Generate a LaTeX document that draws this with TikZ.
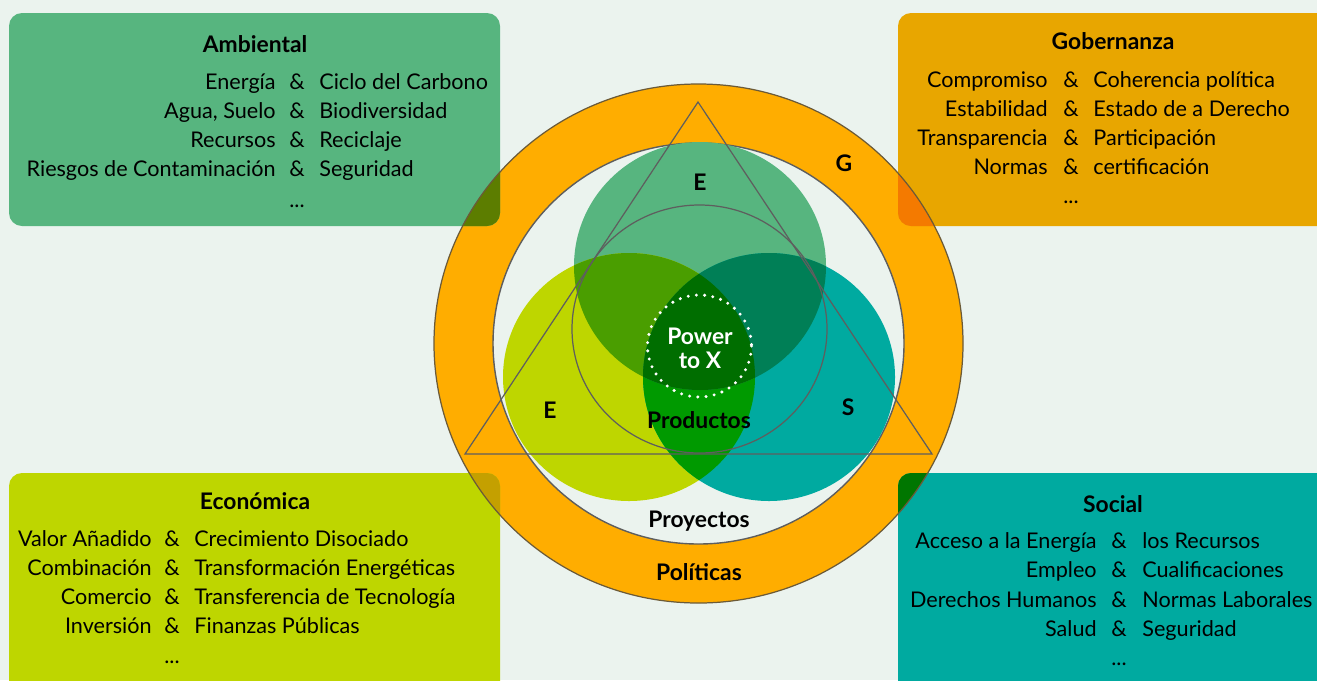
\documentclass[tikz,border=0pt]{standalone}
\usepackage{fontspec}
\setmainfont{Lato}
\usetikzlibrary{positioning,calc}

\definecolor{pagebg}{HTML}{EBF3EE}
\definecolor{ambgreen}{HTML}{57B57F}
\definecolor{govgold}{HTML}{E8A600}
\definecolor{ecolime}{HTML}{BED600}
\definecolor{socteal}{HTML}{00AAA0}
\definecolor{ringorange}{HTML}{FFAD00}
\definecolor{ringamb}{HTML}{5C7D00}
\definecolor{ringgov}{HTML}{F47A00}
\definecolor{ringeco}{HTML}{C4A000}
\definecolor{ringsoc}{HTML}{007600}
\definecolor{vennGY}{HTML}{4A9E00}
\definecolor{vennGT}{HTML}{007F56}
\definecolor{vennYT}{HTML}{009A00}
\definecolor{vennAll}{HTML}{006E00}
\definecolor{linegrey}{HTML}{5E5E5E}
\definecolor{ringline}{HTML}{6B5A38}

\begin{document}
\begin{tikzpicture}[x=0.02cm, y=-0.02cm,
	box/.style={rounded corners=0.26cm},
	vr/.style={x radius=126, y radius=124},
	outer/.style={x radius=264.5, y radius=259.5},
	inner/.style={x radius=205.5, y radius=200.5},
	thin/.style={line width=0.7pt, draw=linegrey},
	item/.style={inner sep=0pt, font=\fontsize{12.3}{14}\selectfont},
	head/.style={inner sep=0pt, anchor=base, font=\fontsize{13}{15}\selectfont\bfseries}]

    \useasboundingbox (0,0) rectangle (1317,680);
    \fill [pagebg] (0,0) rectangle (1317,680);

    % ring: Politicas
    \coordinate (C) at (698.5,343.5);
    \fill [ringorange, even odd rule] (C) ellipse [outer] (C) ellipse [inner];

    % the four boxes
    \fill [box, ambgreen] (9,13) rectangle (500,226);
    \fill [box, govgold] (898,13) rectangle (1340,226);
    \fill [box, ecolime] (9,473) rectangle (500,700);
    \fill [box, socteal] (898,473) rectangle (1340,700);
    \begin{scope}
      \clip (C) ellipse [outer];
      \fill [box, ringamb] (9,13) rectangle (500,226);
      \fill [box, ringgov] (898,13) rectangle (1340,226);
      \fill [box, ringeco] (9,473) rectangle (500,700);
      \fill [box, ringsoc] (898,473) rectangle (1340,700);
    \end{scope}
    \draw [ringline, line width=0.7pt] (C) ellipse [outer];
    \draw [linegrey, line width=0.8pt] (C) ellipse [inner];

    % venn of the three dimensions
    \coordinate (Vt) at (700,266);
    \coordinate (Vl) at (629,377);
    \coordinate (Vr) at (769,377);
    \fill [ambgreen] (Vt) ellipse [vr];
    \fill [ecolime] (Vl) ellipse [vr];
    \fill [socteal] (Vr) ellipse [vr];
    \begin{scope}
      \clip (Vl) ellipse [vr];
      \fill [vennYT] (Vr) ellipse [vr];
    \end{scope}
    \begin{scope}
      \clip (Vt) ellipse [vr];
      \fill [vennGY] (Vl) ellipse [vr];
      \fill [vennGT] (Vr) ellipse [vr];
      \clip (Vl) ellipse [vr];
      \fill [vennAll] (Vr) ellipse [vr];
    \end{scope}

    \draw [thin] (699.5,329) ellipse [x radius=127.5, y radius=124];
    \coordinate (T1) at (698,102);
    \coordinate (T2) at (465,454);
    \coordinate (T3) at (932,454);
    \draw [thin] (T1) -- (T2) -- (T3) -- cycle;
    \draw [white, line width=1.9pt, line cap=round, dash pattern=on 0pt off 4.7pt] (699.5,346) ellipse [x radius=52, y radius=51];

    % labels of the diagram
    \node (power) [head, white] at (700,344) {Power};
    \node (tox) [head, white] at (700,368) {to X};
    \node (Etop) [head] at (700,190.5) {E};
    \node (G) [head] at (844,171.5) {G};
    \node (Eleft) [head] at (550,418) {E};
    \node (S) [head] at (848,415.5) {S};
    \node (prod) [head] at (699,428) {Productos};
    \node (proy) [head] at (699,527) {Proyectos};
    \node (pol) [head] at (699,580) {Políticas};

    % Ambiental
    \node (amb) [head] at (255,52) {Ambiental};
    \foreach \a/\b [count=\i from 0] in {Energía/Ciclo del Carbono, {Agua, Suelo}/Biodiversidad, Recursos/Reciclaje, Riesgos de Contaminación/Seguridad} {
      \node (amb-l\i) [item, anchor=base east] at (276,89+29.3*\i) {\a};
      \node (amb-a\i) [item, anchor=base] at (297,89+29.3*\i) {\&};
      \node (amb-r\i) [item, anchor=base west] at (319,89+29.3*\i) {\b};
    }
    \node (amb-dots) [item, anchor=base] at (297,207) {...};

    % Gobernanza
    \node (gov) [head] at (1113,49) {Gobernanza};
    \foreach \a/\b [count=\i from 0] in {Compromiso/Coherencia política, Estabilidad/Estado de a Derecho, Transparencia/Participación, Normas/certificación} {
      \node (gov-l\i) [item, anchor=base east] at (1048,87+29*\i) {\a};
      \node (gov-a\i) [item, anchor=base] at (1071,87+29*\i) {\&};
      \node (gov-r\i) [item, anchor=base west] at (1093,87+29*\i) {\b};
    }
    \node (gov-dots) [item, anchor=base] at (1071,203) {...};

    % Economica
    \node (eco) [head] at (255,509) {Económica};
    \foreach \a/\b [count=\i from 0] in {Valor Añadido/Crecimiento Disociado, Combinación/Transformación Energéticas, Comercio/Transferencia de Tecnología, Inversión/Finanzas Públicas} {
      \node (eco-l\i) [item, anchor=base east] at (152,546+29*\i) {\a};
      \node (eco-a\i) [item, anchor=base] at (172,546+29*\i) {\&};
      \node (eco-r\i) [item, anchor=base west] at (194,546+29*\i) {\b};
    }
    \node (eco-dots) [item, anchor=base] at (172,663) {...};

    % Social
    \node (soc) [head] at (1113,512) {Social};
    \foreach \a/\b [count=\i from 0] in {Acceso a la Energía/los Recursos, Empleo/Cualificaciones, Derechos Humanos/Normas Laborales, Salud/Seguridad} {
      \node (soc-l\i) [item, anchor=base east] at (1097,548+29.5*\i) {\a};
      \node (soc-a\i) [item, anchor=base] at (1119,548+29.5*\i) {\&};
      \node (soc-r\i) [item, anchor=base west] at (1142,548+29.5*\i) {\b};
    }
    \node (soc-dots) [item, anchor=base] at (1119,665) {...};

\end{tikzpicture}
\end{document}
